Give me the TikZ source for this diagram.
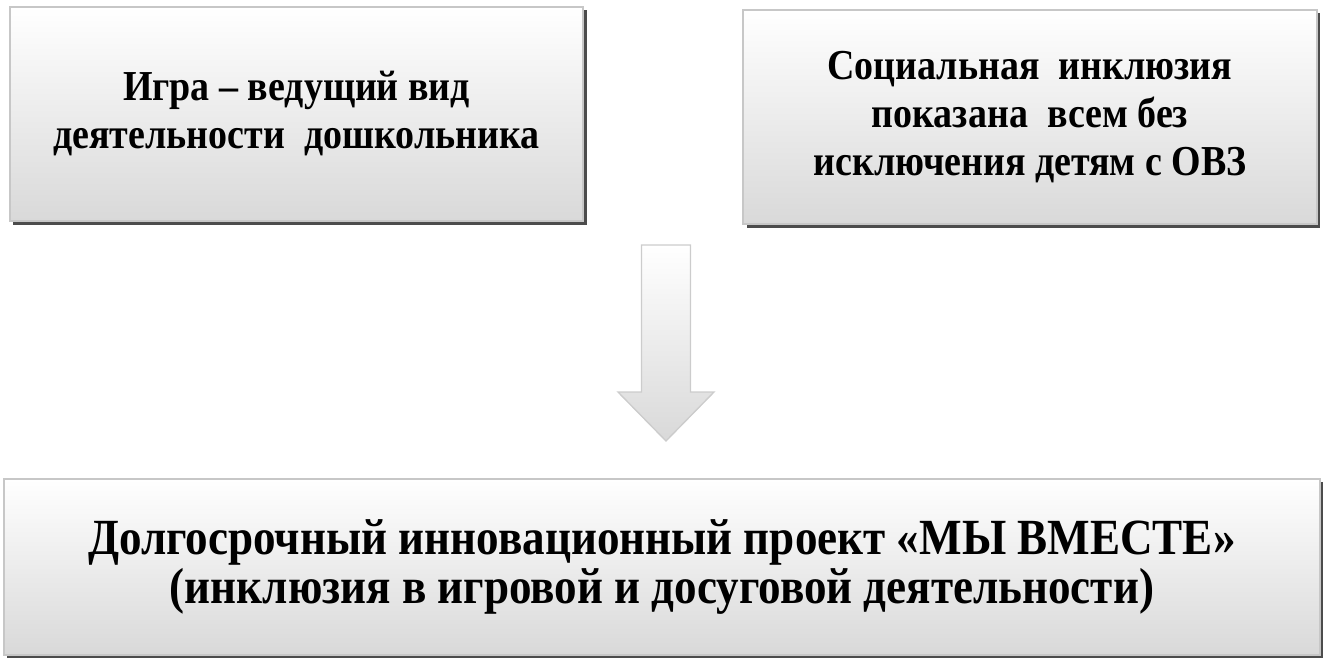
\documentclass[tikz,border=0pt]{standalone}
\usepackage{fontspec}
\setmainfont{Liberation Serif}
\newfontfamily\tallfont{Liberation Serif}[FakeStretch=0.89]
\usetikzlibrary{shadows}

\begin{document}
\begin{tikzpicture}[line join=miter,x=0.75pt,y=-0.75pt,
  box/.style={draw=black!22, line width=1.5pt, top color=white, bottom color=black!15,
    align=center, inner sep=0pt,
    drop shadow={shadow xshift=2.5pt, shadow yshift=-2.5pt, fill=black!70, opacity=1}},
  topbox/.style={box, minimum width=430pt, minimum height=161pt, font=\tallfont\fontsize{32}{36}\selectfont\bfseries},
  bigbox/.style={box, minimum width=987pt, minimum height=132pt, font=\tallfont\fontsize{38}{37}\selectfont\bfseries}]

\def\sw{24.5} %half shaft width
\def\hw{48} %half head width
\def\hs{392} %where the head starts

\useasboundingbox (0,0) rectangle (1325,662);

%boxes
\node[topbox] (game) at (296.5,114) {Игра – ведущий вид\\деятельности\ \ дошкольника};
\node[topbox] (social) at (1030,117) {Социальная\ \ инклюзия\\показана\ \ всем без\\исключения детям с ОВЗ};
\node[bigbox] (project) at (662,567) {Долгосрочный инновационный проект «МЫ ВМЕСТЕ»\\(инклюзия в игровой и досуговой деятельности)};

%arrow
\coordinate (tip) at (666,441);
\begin{scope}[xshift=3pt,yshift=-3pt]
\fill[black!70] (tip) ++(-\sw,-196) -- ++(2*\sw,0) -- ++(0,\hs-245) -- ++(\hw-\sw,0) -- (tip) -- ++(-\hw,-49) -- ++(\hw-\sw,0) -- cycle;
\end{scope}
\draw[draw=black!20, line width=1pt, top color=white, bottom color=black!15]
  (tip) ++(-\sw,-196) -- ++(2*\sw,0) -- ++(0,\hs-245) -- ++(\hw-\sw,0) -- (tip) -- ++(-\hw,-49) -- ++(\hw-\sw,0) -- cycle;
\end{tikzpicture}
\end{document}
